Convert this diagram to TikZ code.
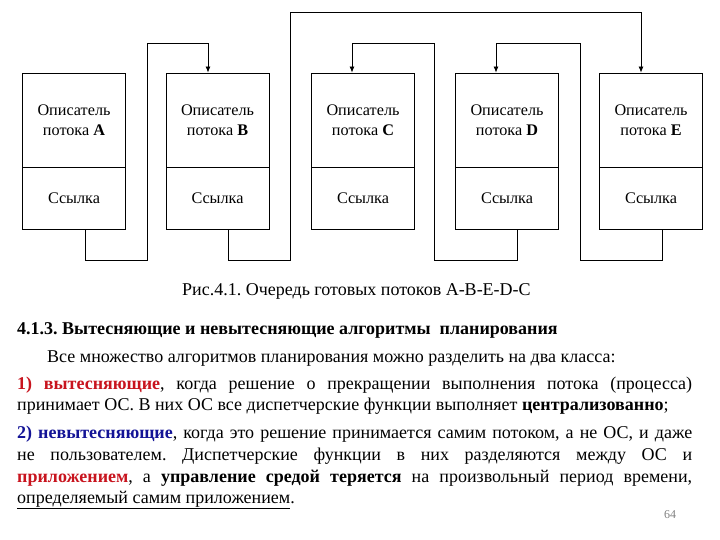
\documentclass[tikz,border=0pt]{standalone}
\usepackage{fontspec}
\setmainfont{Liberation Serif}
\usetikzlibrary{arrows.meta}
\definecolor{myred}{RGB}{200,20,30}
\definecolor{myblue}{RGB}{20,20,150}
\frenchspacing
\begin{document}
\begin{tikzpicture}[x=1pt,y=-1pt,
  topbox/.style={draw,line width=0.8pt,minimum width=103pt,minimum height=94pt,inner sep=0pt,align=center,font=\fontsize{16.2}{20}\selectfont},
  botbox/.style={draw,line width=0.8pt,minimum width=103pt,minimum height=62pt,inner sep=0pt,align=center,font=\fontsize{16.2}{20}\selectfont},
  arr/.style={line width=0.8pt,-{Latex[length=6pt,width=5pt]}},
  txt/.style={anchor=base west,inner sep=0pt,font=\fontsize{18}{21}\selectfont}]
\useasboundingbox (0,0) rectangle (720,540);
% boxes
\foreach \n/\x/\l in {A/74/A,B/217.5/B,C/363/C,D/507/D,E/651/E}{
  \node[topbox] (\n t) at (\x,120) {Описатель\\потока \textbf{\l}};
  \node[botbox] (\n b) at (\x,198) {Ссылка};
}
% connectors
\draw[arr] ([xshift=11pt]Ab.south) |- (147,260) |- ([xshift=-9.5pt]Bt.north |- 0,43) -- ([xshift=-9.5pt]Bt.north);
\draw[arr] ([xshift=10.5pt]Bb.south) |- (290,260) |- ([xshift=-10pt]Et.north |- 0,12) -- ([xshift=-10pt]Et.north);
\draw[arr] ([xshift=11pt]Eb.south) |- (580,260) |- ([xshift=-11pt]Dt.north |- 0,43) -- ([xshift=-11pt]Dt.north);
\draw[arr] ([xshift=10pt]Db.south) |- (434,260) |- ([xshift=-11pt]Ct.north |- 0,43) -- ([xshift=-11pt]Ct.north);
% caption and text
\node[txt] (cap) at (182,295) {Рис.4.1. Очередь готовых потоков A-B-E-D-C};
\node[txt] (h) at (17,334) {\textbf{4.1.3. Вытесняющие и невытесняющие алгоритмы\ \ планирования}};
\node[txt] (l0) at (47,362) {Все множество алгоритмов планирования можно разделить на два класса:};
\node[txt] (l1) at (17,389) {\makebox[675pt][s]{\textcolor{myred}{\textbf{1)}} \textcolor{myred}{\textbf{вытесняющие}}, когда решение о прекращении выполнения потока (процесса)}};
\node[txt] (l2) at (17,410) {принимает ОС. В них ОС все диспетчерские функции выполняет \textbf{централизованно};};
\node[txt] (l3) at (17,438) {\makebox[675pt][s]{\textcolor{myblue}{\textbf{2)}} \textcolor{myblue}{\textbf{невытесняющие}}, когда это решение принимается самим потоком, а не ОС, и даже}};
\node[txt] (l4) at (17,460) {\makebox[675pt][s]{не пользователем. Диспетчерские функции в них разделяются между ОС и}};
\node[txt] (l5) at (17,482) {\makebox[675pt][s]{\textcolor{myred}{\textbf{приложением}}, а \textbf{управление средой теряется} на произвольный период времени,}};
\node[txt] (l6) at (17,503) {\underline{определяемый самим приложением}.};
\node[txt,font=\fontsize{12}{14}\selectfont,text=gray] (pg) at (664,518) {64};
\end{tikzpicture}
\end{document}
